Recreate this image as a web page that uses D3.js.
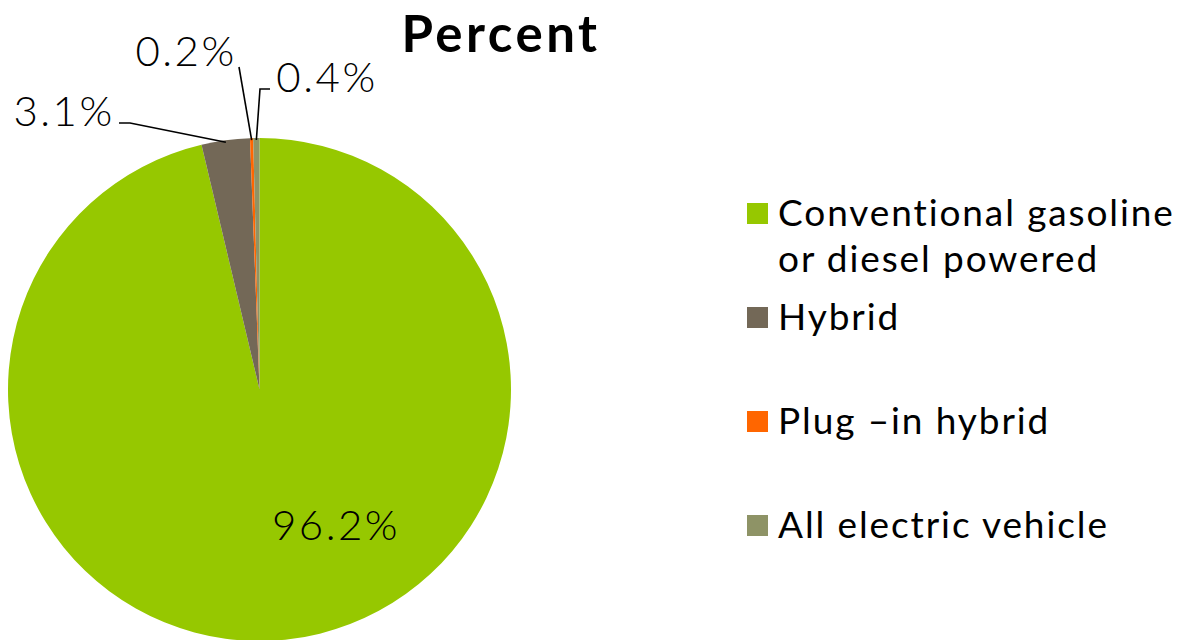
<!DOCTYPE html>
<html>
<head>
<meta charset="utf-8">
<script src="https://cdn.jsdelivr.net/npm/d3@7"></script>
<style>
  html, body { margin: 0; padding: 0; background: #fff; }
  svg { display: block; }
  text { font-family: "Century Gothic", "Lato", "Noto Sans", sans-serif; fill: #000; }
</style>
</head>
<body>
<svg id="chart" width="1189" height="640"></svg>
<script>
// Vehicle type shares (percent)
const categories = ["Conventional gasoline or diesel powered", "Hybrid", "Plug –in hybrid", "All electric vehicle"];
const legendLines = [["Conventional gasoline", "or diesel powered"], ["Hybrid"], ["Plug –in hybrid"], ["All electric vehicle"]];
const values = [96.2, 3.1, 0.2, 0.4];
const valueLabels = ["96.2%", "3.1%", "0.2%", "0.4%"];
const colors = ["#96C800", "#736857", "#FF6600", "#8E9366"];
const chartTitle = "Percent";

const svg = d3.select("#chart");

const cx = 259.5, cy = 389.5, radius = 251.5;

const pie = d3.pie().sort(null).value(d => d)
  .startAngle(0).endAngle(2 * Math.PI);
const arcs = pie(values);
const arc = d3.arc().innerRadius(0).outerRadius(radius);

const g = svg.append("g").attr("transform", `translate(${cx},${cy})`);

g.selectAll("path.slice")
  .data(arcs)
  .join("path")
  .attr("class", "slice")
  .attr("d", arc)
  .attr("fill", (d, i) => colors[i]);

// Point on the rim at the middle of a slice
function rimPoint(d, r) {
  const a = (d.startAngle + d.endAngle) / 2;
  return [Math.sin(a) * r, -Math.cos(a) * r];
}

// Label placement (relative to pie center): text position and leader path knots
const labelLayout = [
  { x: 336 - cx, y: 540 - cy, leader: null },
  { x: 64 - cx, y: 126 - cy, leader: [[119 - cx, 123 - cy], [130 - cx, 123 - cy]] },
  { x: 186 - cx, y: 66 - cy, leader: [[239 - cx, 67 - cy]] },
  { x: 327 - cx, y: 92 - cy, leader: [[270 - cx, 89 - cy], [260 - cx, 89 - cy]] }
];

arcs.forEach((d, i) => {
  const L = labelLayout[i];
  if (L.leader) {
    const pts = L.leader.concat([rimPoint(d, radius - 2)]);
    g.append("path")
      .attr("d", d3.line()(pts))
      .attr("fill", "none")
      .attr("stroke", "#000")
      .attr("stroke-width", 1.6);
  }
  g.append("text")
    .attr("x", L.x)
    .attr("y", L.y)
    .attr("text-anchor", "middle")
    .attr("font-size", 42)
    .attr("font-weight", 300)
    .attr("letter-spacing", 2.5)
    .text(valueLabels[i]);
});

// Title
svg.append("text")
  .attr("x", 501)
  .attr("y", 52)
  .attr("text-anchor", "middle")
  .attr("font-size", 51)
  .attr("font-weight", 700)
  .attr("letter-spacing", 3.5)
  .text(chartTitle);

// Legend
const legendRows = [226, 330, 434, 538];
const legend = svg.append("g");
categories.forEach((c, i) => {
  const y = legendRows[i];
  legend.append("rect")
    .attr("x", 747).attr("y", y - 23)
    .attr("width", 21).attr("height", 21)
    .attr("fill", colors[i]);
  legendLines[i].forEach((line, j) => {
    legend.append("text")
      .attr("x", 778)
      .attr("y", y + j * 46)
      .attr("font-size", 37)
      .attr("letter-spacing", 1.9)
      .text(line);
  });
});
</script>
</body>
</html>
